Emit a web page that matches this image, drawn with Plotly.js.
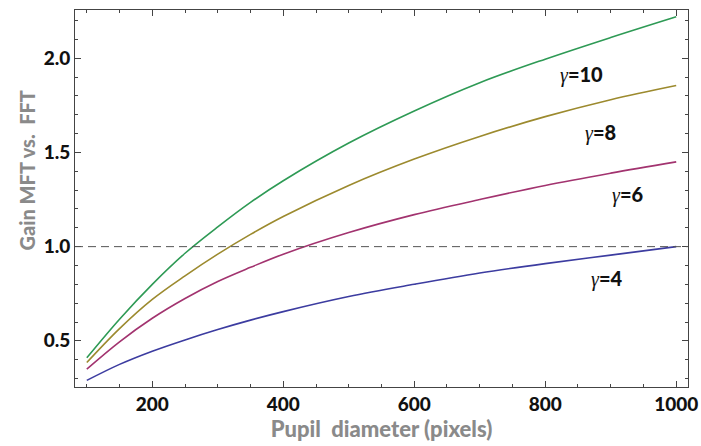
<!DOCTYPE html>
<html>
<head>
<meta charset="utf-8">
<script src="https://cdn.plot.ly/plotly-3.0.1.min.js"></script>
<style>html,body{margin:0;padding:0;background:#fff;}#chart{width:701px;height:446px;}</style>
</head>
<body>
<div id="chart"></div>
<script>
const pupil = [100, 150, 200, 250, 300, 350, 400, 500, 600, 700, 800, 900, 1000];
const gain_g10 = [0.41, 0.615, 0.80, 0.965, 1.105, 1.235, 1.35, 1.55, 1.72, 1.87, 1.995, 2.11, 2.22];
const gain_g8  = [0.385, 0.565, 0.72, 0.845, 0.96, 1.065, 1.16, 1.325, 1.465, 1.585, 1.69, 1.78, 1.855];
const gain_g6  = [0.35, 0.495, 0.62, 0.725, 0.815, 0.89, 0.96, 1.075, 1.17, 1.25, 1.325, 1.39, 1.45];
const gain_g4  = [0.29, 0.375, 0.445, 0.505, 0.56, 0.61, 0.655, 0.735, 0.80, 0.86, 0.91, 0.955, 1.0];
const seriesNames = ["γ=10", "γ=8", "γ=6", "γ=4"];
const labelX = [856, 885, 926, 893];
const labelY = [1.914, 1.607, 1.278, 0.833];
const referenceGain = 1.0;
const xTitle = "Pupil  diameter (pixels)";
const yTitle = "Gain MFT vs.  FFT";

const colors = ["#2e9a55", "#9c8a2e", "#a2336f", "#3c3ca0"];
const allSeries = [gain_g10, gain_g8, gain_g6, gain_g4];

const traces = allSeries.map((ys, i) => ({
  x: pupil, y: ys, type: "scatter", mode: "lines",
  line: {color: colors[i], width: 1.6, shape: "spline", smoothing: 1},
  name: seriesNames[i], hoverinfo: "skip"
}));

const annotations = seriesNames.map((s, i) => ({
  x: labelX[i], y: labelY[i], xref: "x", yref: "y", showarrow: false,
  text: "<i style='font-family:\"Liberation Serif\";font-weight:normal'>γ</i>" + s.slice(1),
  font: {family: "Lato", size: 20, color: "#111", weight: 900}
}));
annotations.push({
  text: yTitle, textangle: -90, showarrow: false,
  xref: "paper", x: -0.078, xanchor: "center",
  yref: "paper", y: 0.575, yanchor: "middle",
  font: {family: "Lato", size: 20, color: "#8a8a8a", weight: 900}
});

const tickFont = {family: "Lato", size: 19, color: "#111", weight: 900};

const layout = {
  width: 701, height: 446,
  margin: {l: 75, r: 13, t: 10, b: 59},
  paper_bgcolor: "#fff", plot_bgcolor: "#fff",
  showlegend: false,
  xaxis: {
    range: [82, 1018], tickvals: [200, 400, 600, 800, 1000],
    ticks: "inside", ticklen: 6, tickwidth: 1, tickcolor: "#444",
    minor: {dtick: 50, tick0: 0, ticks: "inside", ticklen: 3, tickcolor: "#444", showgrid: false},
    showline: true, linecolor: "#444", linewidth: 1, mirror: "allticks",
    showgrid: false, zeroline: false, tickfont: tickFont,
    title: {text: xTitle, font: {family: "Lato", size: 22, color: "#8a8a8a", weight: 900}, standoff: 3}
  },
  yaxis: {
    range: [0.255, 2.256], tickvals: [0.5, 1.0, 1.5, 2.0], ticktext: ["0.5", "1.0", "1.5", "2.0"],
    ticks: "inside", ticklen: 6, tickwidth: 1, tickcolor: "#444",
    minor: {dtick: 0.1, tick0: 0, ticks: "inside", ticklen: 3, tickcolor: "#444", showgrid: false},
    showline: true, linecolor: "#444", linewidth: 1, mirror: "allticks",
    showgrid: false, zeroline: false, tickfont: tickFont
  },
  shapes: [{
    type: "line", xref: "paper", x0: 0, x1: 1, yref: "y", y0: referenceGain, y1: referenceGain,
    line: {color: "#555", width: 1, dash: "8px,5px"}
  }],
  annotations: annotations
};

Plotly.newPlot("chart", traces, layout, {displayModeBar: false, staticPlot: true});
</script>
</body>
</html>
